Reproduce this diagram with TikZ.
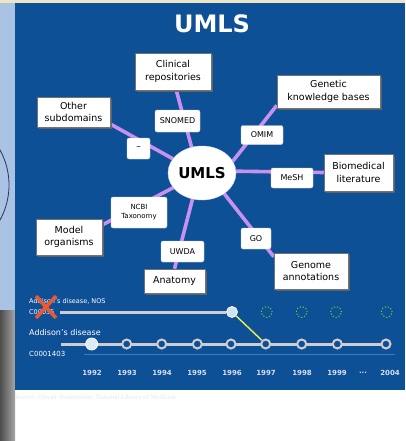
\documentclass[tikz,border=0pt]{standalone}
\usepackage{fontspec}
\setmainfont{DejaVu Sans}
\newfontfamily\footfont{Liberation Serif}
\usetikzlibrary{shapes.geometric,shadows}
\pgfdeclarelayer{back}
\pgfdeclarelayer{bg}
\pgfsetlayers{back,bg,main}
\definecolor{panel}{RGB}{14,80,150}
\definecolor{cream}{RGB}{236,230,198}
\definecolor{strip}{RGB}{170,195,228}
\definecolor{arcnavy}{RGB}{40,50,95}
\definecolor{spokecol}{RGB}{200,145,240}
\definecolor{tlgray}{RGB}{205,205,210}
\definecolor{thinline}{RGB}{70,120,185}
\definecolor{yel}{RGB}{240,240,80}
\definecolor{dotgreen}{RGB}{120,195,60}
\definecolor{lightdot}{RGB}{205,228,240}
\definecolor{redx}{RGB}{236,88,48}
\definecolor{yeartxt}{RGB}{215,222,238}
\tikzset{
  outerbox/.style={draw=black!55, line width=0.5pt, fill=white, inner sep=0pt, align=center,
    font=\fontsize{9.5}{12.5}\selectfont,
    drop shadow={shadow xshift=1.6pt, shadow yshift=-1.6pt, fill=black!60, opacity=0.9}},
  labelbox/.style={draw=black!20, line width=0.4pt, fill=white, rounded corners=2pt, inner sep=0pt, align=center,
    font=\fontsize{8}{9.5}\selectfont},
  spoke/.style={draw=spokecol, line width=3.6pt},
  ring/.style={circle, draw=tlgray, line width=2pt, fill=panel, minimum size=9pt, inner sep=0pt},
  dotring/.style={circle, draw=dotgreen, dotted, line width=1.1pt, minimum size=11pt, inner sep=0pt},
  year/.style={text=yeartxt, font=\fontsize{7}{8}\selectfont\bfseries, inner sep=0pt},
  tllabel/.style={text=white, anchor=west, inner sep=0pt},
  tlline/.style={draw=tlgray, line width=3pt}
}
\begin{document}
\begin{tikzpicture}[x=1pt,y=-1pt]
\useasboundingbox (0,0) rectangle (405,441);
\begin{pgfonlayer}{back}
  \fill[white] (0,0) rectangle (405,441);
  \fill[cream] (0,0) rectangle (405,3);
  \fill[strip] (0,3) rectangle (15,310);
  \begin{scope}
    \clip (0,3) rectangle (15,310);
    \draw[arcnavy, line width=0.8pt] (-63.6,185) circle (72.6);
  \end{scope}
  \shade[left color=black!70, right color=black!35] (0,310) rectangle (15,441);
  \fill[panel] (15,3) rectangle (405,390);
\end{pgfonlayer}

% title
\node[text=white, font=\fontsize{24}{28}\selectfont\bfseries] (title) at (212,24) {UMLS};

% central node
\node[ellipse, fill=white, draw=white!85!blue, minimum width=68pt, minimum height=54pt, inner sep=0pt,
      font=\fontsize{15}{18}\selectfont\bfseries] (u) at (202,173) {UMLS};

% outer boxes
\node[outerbox, minimum width=76pt, minimum height=37pt] (clin) at (173,71.5) {Clinical\\repositories};
\node[outerbox, minimum width=103pt, minimum height=33pt] (gen) at (328.5,91.5) {Genetic\\knowledge bases};
\node[outerbox, minimum width=73pt, minimum height=30pt] (oth) at (73.5,112) {Other\\subdomains};
\node[outerbox, minimum width=69pt, minimum height=37pt] (bio) at (358.5,172.5) {Biomedical\\literature};
\node[outerbox, minimum width=66pt, minimum height=36pt] (mod) at (69,237) {Model\\organisms};
\node[outerbox, minimum width=61pt, minimum height=24pt] (anat) at (174.5,281) {Anatomy};
\node[outerbox, minimum width=74pt, minimum height=36pt] (genome) at (311,271) {Genome\\annotations};

% label boxes
\node[labelbox, minimum width=45pt, minimum height=22pt] (snomed) at (177.5,121) {SNOMED};
\node[labelbox, minimum width=42pt, minimum height=19pt] (omim) at (262,135) {OMIM};
\node[labelbox, minimum width=23pt, minimum height=21pt, font=\fontsize{9}{10}\selectfont] (dash) at (138.5,148.5) {--};
\node[labelbox, minimum width=42pt, minimum height=20pt] (mesh) at (292,178) {MeSH};
\node[labelbox, minimum width=56pt, minimum height=31pt, font=\fontsize{7}{9}\selectfont] (ncbi) at (139,212.5) {NCBI\\Taxonomy};
\node[labelbox, minimum width=43pt, minimum height=21pt] (uwda) at (182.5,251.5) {UWDA};
\node[labelbox, minimum width=30pt, minimum height=21pt] (go) at (256,238.5) {GO};

% spokes
\begin{pgfonlayer}{bg}
  \draw[spoke] (u.112) -- (clin.-80);
  \draw[spoke] (u.154) -- (oth.-18);
  \draw[spoke] (u.21) -- (gen.195);
  \draw[spoke] (u.3) -- (bio.west);
  \draw[spoke] (u.207) -- (mod.20);
  \draw[spoke] (u.250) -- (anat.north);
  \draw[spoke] (u.-43) -- (genome.159);
\end{pgfonlayer}

% timeline
\coordinate (us) at (60,312);
\coordinate (ls) at (61,344);
\coordinate (th1) at (84,354);
\coordinate (th2) at (395,354);
\node[circle, fill=lightdot, draw=white, line width=0.8pt, minimum size=11pt, inner sep=0pt] (n96) at (232,312) {};
\node[circle, fill=lightdot!70!white, draw=white, line width=0.8pt, minimum size=12pt, inner sep=0pt] (t92) at (91.7,344) {};
\node[ring] (t93) at (126.7,344) {};
\node[ring] (t94) at (161.7,344) {};
\node[ring] (t95) at (197.3,344) {};
\node[ring] (t96) at (231,344) {};
\node[ring] (t97) at (265.7,344) {};
\node[ring] (t98) at (301.7,344) {};
\node[ring] (t99) at (337.3,344) {};
\node[ring] (t04) at (386,344) {};
\node[dotring] (d1) at (266.7,312) {};
\node[dotring] (d2) at (301.7,312) {};
\node[dotring] (d3) at (336,312) {};
\node[dotring] (d4) at (386.7,312) {};
\begin{pgfonlayer}{bg}
  \draw[tlline] (us) -- (n96);
  \draw[tlline] (ls) -- (t04);
  \draw[thinline, line width=0.8pt] (th1) -- (th2);
  \draw[yel, line width=1.4pt] (n96) -- (t97);
\end{pgfonlayer}

\node[year] (y92) at (92,373) {1992};
\node[year] (y93) at (127,373) {1993};
\node[year] (y94) at (162,373) {1994};
\node[year] (y95) at (197,373) {1995};
\node[year] (y96) at (232,373) {1996};
\node[year] (y97) at (266,373) {1997};
\node[year] (y98) at (302,373) {1998};
\node[year] (y99) at (337,373) {1999};
\node[year] (ydots) at (363,373) {...};
\node[year] (y04) at (390,373) {2004};

\node[tllabel, font=\fontsize{6.5}{8}\selectfont] (nosl) at (29,301) {Addison's disease, NOS};
\node[tllabel, font=\fontsize{6.5}{8}\selectfont] (nosc) at (29,312) {C00035};
\node[tllabel, font=\fontsize{8}{9}\selectfont] (addl) at (29,333) {Addison's disease};
\node[tllabel, font=\fontsize{7}{8}\selectfont] (addc) at (29,354) {C0001403};

% red cross
\coordinate (xa) at (36,296);
\coordinate (xb) at (56,318);
\coordinate (xc) at (56,296);
\coordinate (xd) at (36,318);
\draw[redx, line width=3.5pt] (xa) -- (xb) (xc) -- (xd);

% footer
\node[anchor=west, inner sep=0pt, text=black!9, font=\footfont\fontsize{6.8}{8}\selectfont] (foot) at (15,398) {Source: Olivier Bodenreider, National Library of Medicine};
\end{tikzpicture}
\end{document}
